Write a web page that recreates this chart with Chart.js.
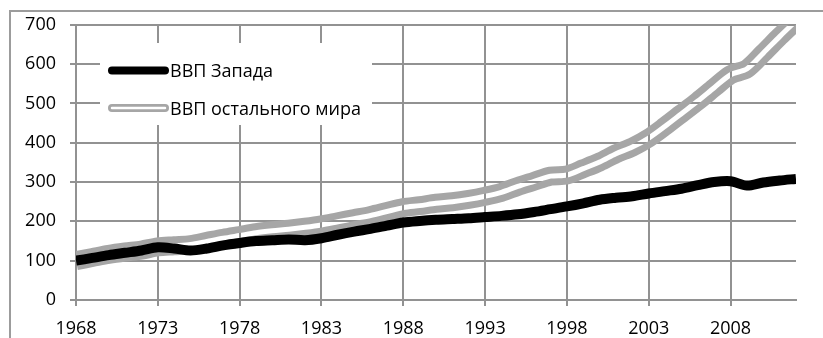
<!DOCTYPE html>
<html lang="ru">
<head>
<meta charset="utf-8">
<script src="https://cdn.jsdelivr.net/npm/chart.js@4"></script>
<style>
    html, body { margin: 0; background: #fff; }
    #wrap { position: relative; width: 823px; height: 338px; overflow: hidden; }
    #frame {
        position: absolute; left: 9px; top: 10px; right: -4px; bottom: -4px;
        border-left: 2px solid #9c9c9c; border-top: 2px solid #9c9c9c;
    }
    #gdp { position: absolute; left: 0; top: 0; }
</style>
</head>
<body>
<div id="wrap">
    <div id="frame"></div>
    <canvas id="gdp" width="823" height="338"></canvas>
</div>
<script>
const years = [
    1968, 1969, 1970, 1971, 1972, 1973, 1974, 1975, 1976, 1977,
    1978, 1979, 1980, 1981, 1982, 1983, 1984, 1985, 1986, 1987,
    1988, 1989, 1990, 1991, 1992, 1993, 1994, 1995, 1996, 1997,
    1998, 1999, 2000, 2001, 2002, 2003, 2004, 2005, 2006, 2007,
    2008, 2009, 2010, 2011, 2012
];

// ВВП Запада, 1968 = 100
const westGdp = [
    100, 107, 114, 120, 126, 134, 131, 126, 131, 139,
    145, 150, 152, 154, 152, 157, 166, 174, 181, 189,
    197, 201, 204, 206, 208, 211, 214, 218, 224, 231,
    238, 246, 255, 260, 264, 271, 277, 283, 292, 300,
    302, 291, 299, 304, 308
];

// ВВП остального мира, 1968 = 100
const restGdp = [
    100, 108, 116, 122, 127, 135, 138, 141, 149, 157,
    164, 171, 176, 180, 185, 191, 199, 207, 215, 225,
    235, 240, 246, 250, 256, 264, 274, 289, 302, 315,
    318, 334, 351, 372, 389, 412, 442, 474, 506, 540,
    573, 588, 628, 670, 710
];

const xTicks = [1968, 1973, 1978, 1983, 1988, 1993, 1998, 2003, 2008];
const yTicks = [0, 100, 200, 300, 400, 500, 600, 700];

const seriesNames = ["ВВП Запада", "ВВП остального мира"];

const gridColor = "#929292";
const fontFamily = "'Open Sans', sans-serif";

// Excel-style "double" stroke: thick line with a transparent channel cut out of it
const doubleLine = {
    id: "doubleLine",
    beforeDatasetDraw(chart, args) {
        const ds = chart.data.datasets[args.index];
        if (!ds.gapWidth) return;
        const line = args.meta.dataset;
        const area = chart.chartArea;
        line.updateControlPoints(area, "x");

        const off = document.createElement("canvas");
        off.width = chart.width;
        off.height = chart.height;
        const c = off.getContext("2d");
        c.lineJoin = "round";
        c.beginPath();
        line.path(c);
        c.strokeStyle = ds.borderColor;
        c.lineWidth = ds.borderWidth;
        c.stroke();
        c.globalCompositeOperation = "destination-out";
        c.lineWidth = ds.gapWidth;
        c.stroke();

        const ctx = chart.ctx;
        ctx.save();
        ctx.beginPath();
        ctx.rect(area.left, area.top, area.width, area.height);
        ctx.clip();
        ctx.drawImage(off, 0, 0);
        ctx.restore();
        return false;
    }
};

// legend box sitting inside the plot, over the grid
const insideLegend = {
    id: "insideLegend",
    beforeDatasetsDraw(chart, args, opts) {
        const ctx = chart.ctx;
        ctx.save();
        ctx.fillStyle = "#fff";
        ctx.fillRect(opts.box.x, opts.box.y, opts.box.w, opts.box.h);
        ctx.font = opts.font;
        ctx.textBaseline = "alphabetic";
        ctx.lineCap = "round";
        chart.data.datasets.forEach((ds, i) => {
            const y = opts.rows[i];
            ctx.beginPath();
            ctx.moveTo(opts.x1, y);
            ctx.lineTo(opts.x2, y);
            ctx.strokeStyle = ds.borderColor;
            ctx.lineWidth = opts.symbolWidth;
            ctx.stroke();
            if (ds.gapWidth) {
                ctx.strokeStyle = "#fff";
                ctx.lineWidth = opts.symbolGap;
                ctx.stroke();
            }
            ctx.fillStyle = "#000";
            ctx.fillText(ds.label, opts.textX, opts.baselines[i]);
        });
        ctx.restore();
    }
};

document.addEventListener("DOMContentLoaded", () => {
    const ctx = document.getElementById("gdp").getContext("2d");

    new Chart(ctx, {
        type: "line",
        data: {
            datasets: [
                {
                    label: seriesNames[0],
                    data: years.map((yr, i) => ({ x: yr, y: westGdp[i] })),
                    borderColor: "#000",
                    borderWidth: 10,
                    tension: 0.3,
                    pointRadius: 0,
                    clip: 0,
                },
                {
                    label: seriesNames[1],
                    data: years.map((yr, i) => ({ x: yr, y: restGdp[i] })),
                    borderColor: "#a6a6a6",
                    borderWidth: 19,
                    gapWidth: 5,
                    tension: 0.3,
                    pointRadius: 0,
                    clip: 0,
                },
            ],
        },
        options: {
            responsive: false,
            animation: false,
            events: [],
            layout: { padding: { left: 10, top: 24, right: 27, bottom: 0 } },
            plugins: {
                legend: { display: false },
                tooltip: { enabled: false },
                insideLegend: {
                    box: { x: 100, y: 43, w: 272, h: 82 },
                    rows: [70.5, 108],
                    baselines: [77, 114.5],
                    x1: 112,
                    x2: 165,
                    symbolWidth: 8,
                    symbolGap: 2.5,
                    textX: 170,
                    font: "18px " + fontFamily,
                },
            },
            scales: {
                x: {
                    type: "linear",
                    min: years[0],
                    max: years[years.length - 1],
                    afterBuildTicks: (axis) => {
                        axis.ticks = xTicks.map((v) => ({ value: v }));
                    },
                    afterFit: (axis) => { axis.height = 38; },
                    grid: { color: gridColor, lineWidth: 2, tickLength: 6, tickColor: gridColor },
                    border: { color: gridColor, width: 2 },
                    ticks: {
                        color: "#000",
                        padding: 12,
                        maxRotation: 0,
                        font: { family: fontFamily, size: 18 },
                        callback: (v) => String(v),
                    },
                },
                y: {
                    min: yTicks[0],
                    max: yTicks[yTicks.length - 1],
                    afterBuildTicks: (axis) => {
                        axis.ticks = yTicks.map((v) => ({ value: v }));
                    },
                    afterFit: (axis) => { axis.width = 66; },
                    grid: { color: gridColor, lineWidth: 2, tickLength: 6, tickColor: gridColor },
                    border: { color: gridColor, width: 2 },
                    ticks: {
                        color: "#000",
                        padding: 14,
                        font: { family: fontFamily, size: 18 },
                    },
                },
            },
        },
        plugins: [doubleLine, insideLegend],
    });
});
</script>
</body>
</html>
